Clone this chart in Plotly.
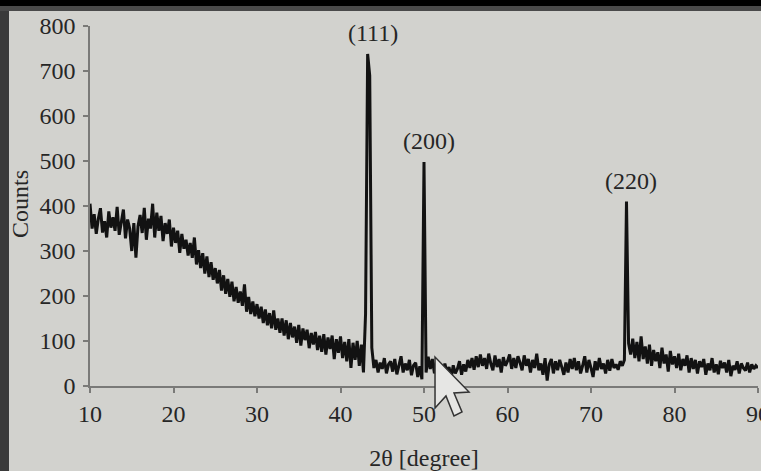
import numpy as np
import plotly.graph_objects as go

# ---- data ----
two_theta_start = 10.0
two_theta_step = 0.25

counts = [
    405, 350, 382, 338,   # 10
    372, 395, 341, 366,   # 11
    330, 388, 352, 375,   # 12
    345, 398, 336, 360,   # 13
    392, 328, 370, 350,   # 14
    300, 362, 285, 355,   # 15
    380, 340, 396, 325,   # 16
    372, 350, 405, 330,   # 17
    385, 345, 378, 322,   # 18
    362, 338, 370, 310,   # 19
    352, 318, 345, 296,   # 20
    338, 305, 325, 290,   # 21
    318, 285, 330, 270,   # 22
    302, 262, 295, 250,   # 23
    288, 242, 275, 236,   # 24
    262, 228, 258, 212,   # 25
    246, 205, 238, 198,   # 26
    232, 188, 220, 185,   # 27
    210, 178, 226, 165,   # 28
    198, 160, 188, 155,   # 29
    182, 150, 176, 140,   # 30
    170, 135, 162, 128,   # 31
    168, 125, 150, 118,   # 32
    150, 112, 146, 104,   # 33
    140, 108, 132, 96,    # 34
    136, 90, 128, 102,    # 35
    125, 84, 118, 92,     # 36
    120, 80, 112, 76,     # 37
    115, 70, 108, 82,     # 38
    112, 60, 104, 74,     # 39
    110, 62, 98, 55,      # 40
    104, 40, 96, 58,      # 41
    100, 45, 92, 30,      # 42
    160, 738, 690, 85,    # 43  (111)
    40, 58, 30, 52,       # 44
    38, 62, 28, 48,       # 45
    55, 32, 60, 26,       # 46
    45, 66, 30, 50,       # 47
    35, 58, 24, 46,       # 48
    52, 20, 44, 15,       # 49
    498, 30, 65, 38,      # 50  (200)
    60, 28, 55, 35,       # 51
    48, 22, 50, 30,       # 52
    42, 18, 46, 28,       # 53
    38, 55, 25, 48,       # 54
    32, 58, 40, 62,       # 55
    36, 66, 42, 70,       # 56
    45, 62, 38, 72,       # 57
    50, 35, 68, 42,       # 58
    60, 30, 64, 45,       # 59
    55, 70, 38, 62,       # 60
    40, 66, 52, 35,       # 61
    68, 45, 60, 30,       # 62
    58, 40, 72, 35,       # 63
    50, 25, 62, 12,       # 64
    48, 60, 28, 55,       # 65
    35, 58, 42, 25,       # 66
    52, 30, 60, 38,       # 67
    62, 35, 55, 28,       # 68
    45, 66, 30, 58,       # 69
    40, 20, 55, 35,       # 70
    62, 38, 50, 28,       # 71
    58, 34, 60, 40,       # 72
    48, 36, 55, 45,       # 73
    58, 410, 95, 70,      # 74  (220)
    105, 62, 98, 55,      # 75
    110, 60, 88, 50,      # 76
    92, 45, 80, 55,       # 77
    75, 40, 85, 50,       # 78
    70, 32, 78, 48,       # 79
    66, 40, 72, 35,       # 80
    60, 45, 68, 30,       # 81
    62, 38, 58, 28,       # 82
    55, 42, 60, 25,       # 83
    50, 35, 62, 30,       # 84
    48, 26, 56, 40,       # 85
    52, 30, 58, 22,       # 86
    45, 36, 55, 28,       # 87
    50, 40, 34, 52,       # 88
    30, 48, 38, 45,       # 89
    40,                   # 90
]

peak_labels = ["(111)", "(200)", "(220)"]
peak_positions = [43.25, 50.0, 74.25]

x_ticks = [10, 20, 30, 40, 50, 60, 70, 80, 90]
y_ticks = [0, 100, 200, 300, 400, 500, 600, 700, 800]

# ---- figure ----
two_theta = two_theta_start + two_theta_step * np.arange(len(counts))
counts_arr = np.array(counts)

FONT = "Liberation Serif, Times New Roman, serif"
TXT = "#262626"
BG = "#d2d2ce"
AX = "#7a7a78"
FS = 24

W, H = 761, 471
ML, MR, MT, MB = 90, 3, 26, 85
PW, PH = W - ML - MR, H - MT - MB


def px(xp):
    return (xp - ML) / PW


def py(yp):
    return (H - MB - yp) / PH


fig = go.Figure()
fig.add_trace(go.Scatter(
    x=two_theta, y=counts_arr, mode="lines",
    line=dict(color="#121212", width=3),
    showlegend=False, hoverinfo="skip",
))

for lab, pos in zip(peak_labels, peak_positions):
    idx = int(np.argmin(np.abs(two_theta - pos)))
    fig.add_annotation(
        x=pos, y=counts_arr[idx], text=lab, showarrow=False,
        xanchor="center", yanchor="bottom", xshift=5, yshift=6,
        font=dict(family=FONT, size=FS, color=TXT),
    )

# y-axis title
fig.add_annotation(
    xref="paper", yref="paper", x=px(20), y=py(204), text="Counts",
    textangle=-90, showarrow=False, xanchor="center", yanchor="middle",
    font=dict(family=FONT, size=FS, color=TXT),
)

fig.update_layout(
    width=W, height=H,
    margin=dict(l=ML, r=MR, t=MT, b=MB),
    paper_bgcolor=BG, plot_bgcolor=BG,
    font=dict(family=FONT, size=FS, color=TXT),
    showlegend=False,
)
fig.update_xaxes(
    range=[10, 90], tickvals=x_ticks, ticktext=[str(v) for v in x_ticks],
    showline=True, linecolor=AX, linewidth=1.5,
    ticks="outside", ticklen=5, tickcolor=AX, tickwidth=1.5,
    showgrid=False, zeroline=False, ticklabelstandoff=0,
    automargin=False, ticklabeloverflow="allow",
    title=dict(text="2θ [degree]", standoff=30,
               font=dict(family=FONT, size=FS, color=TXT)),
)
fig.update_yaxes(
    range=[0, 800], tickvals=y_ticks, ticktext=[str(v) for v in y_ticks],
    showline=True, linecolor=AX, linewidth=1.5,
    ticks="outside", ticklen=5, tickcolor=AX, tickwidth=1.5,
    showgrid=False, zeroline=False, ticklabelstandoff=3,
    automargin=False, ticklabeloverflow="allow",
)

# photo frame edges (dark borders of the screen photo)
fig.add_shape(type="rect", xref="paper", yref="paper",
              x0=px(0), x1=px(W), y0=py(0), y1=py(6),
              fillcolor="#000000", line_width=0, layer="above")
fig.add_shape(type="rect", xref="paper", yref="paper",
              x0=px(0), x1=px(W), y0=py(6), y1=py(11),
              fillcolor="#4a4a4a", line_width=0, layer="above")
fig.add_shape(type="rect", xref="paper", yref="paper",
              x0=px(0), x1=px(9), y0=py(H), y1=py(11),
              fillcolor="#3a3a3a", line_width=0, layer="above")

# mouse pointer visible in the photographed screen
pointer = [(435, 357), (435, 408), (446, 396), (454, 416),
           (462, 412), (454, 393), (469, 392)]
path = "M " + " L ".join(f"{px(a):.4f},{py(b):.4f}" for a, b in pointer) + " Z"
fig.add_shape(type="path", xref="paper", yref="paper", path=path,
              fillcolor="#e6e6e4", line=dict(color="#333333", width=1.5),
              layer="above")

fig.write_html(
    "out.html",
    config={"displayModeBar": False},
    post_script="document.body.style.margin='0px';document.body.style.background='#d2d2ce';",
)
